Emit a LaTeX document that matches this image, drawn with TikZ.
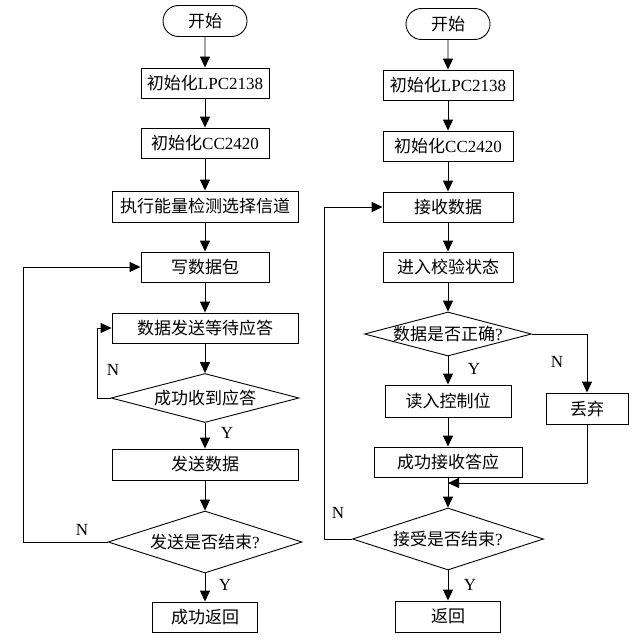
\documentclass[tikz,border=0pt]{standalone}
\usepackage{fontspec}
\setmainfont{Liberation Serif}
\newfontfamily\cjk{Noto Sans CJK SC}
\usetikzlibrary{shapes.geometric,shapes.misc,arrows.meta}

\tikzset{
  base/.style={draw, line width=0.9pt, inner sep=0pt, font=\fontsize{17}{20}\selectfont},
  proc/.style 2 args={base, rectangle, minimum width=#1pt, minimum height=#2pt},
  term/.style={base, rounded rectangle, minimum width=84pt, minimum height=31pt},
  dec/.style 2 args={base, diamond, aspect=3.5, inner sep=-3pt, minimum width=#1pt, minimum height=#2pt},
  flow/.style={line width=0.9pt, -{Triangle[length=11pt,width=10pt]}},
  yn/.style={font=\fontsize{17}{20}\selectfont}
}

\begin{document}
\begin{tikzpicture}[x=1pt,y=-1pt]
    \useasboundingbox (0,0) rectangle (640,642);

    % Left: sending side
    \node[term] (ls) at (205,21) {\cjk 开始};
    \node[proc={128}{30}] (l1) at (205,83) {{\cjk 初始化}LPC2138};
    \node[proc={128}{30}] (l2) at (205,143) {{\cjk 初始化}CC2420};
    \node[proc={186}{31}] (l3) at (205,206.5) {\cjk 执行能量检测选择信道};
    \node[proc={128}{30}] (l4) at (205,267) {\cjk 写数据包};
    \node[proc={186}{30}] (l5) at (205,328) {\cjk 数据发送等待应答};
    \node[dec={188}{49}] (ld1) at (205,398) {\cjk 成功收到应答};
    \node[proc={186}{31}] (l6) at (205,464.5) {\cjk 发送数据};
    \node[dec={194}{62}] (ld2) at (205,542) {{\cjk 发送是否结束}?};
    \node[proc={105}{30}] (le) at (205,617) {\cjk 成功返回};

    % Right: receiving side
    \node[term] (rs) at (448,24) {\cjk 开始};
    \node[proc={130}{30}] (r1) at (448,85) {{\cjk 初始化}LPC2138};
    \node[proc={130}{30}] (r2) at (448,146) {{\cjk 初始化}CC2420};
    \node[proc={130}{30}] (r3) at (448,207) {\cjk 接收数据};
    \node[proc={130}{30}] (r4) at (448,267) {\cjk 进入校验状态};
    \node[dec={167}{44}] (rd1) at (448,334) {{\cjk 数据是否正确}?};
    \node[proc={126}{32}] (r5) at (448,401) {\cjk 读入控制位};
    \node[proc={82}{31}] (r6) at (587,408.5) {\cjk 丢弃};
    \node[proc={148}{30}] (r7) at (448,462) {\cjk 成功接收答应};
    \node[dec={191}{62}] (rd2) at (448,539) {{\cjk 接受是否结束}?};
    \node[proc={105}{31}] (re) at (448,616.5) {\cjk 返回};

    % Loop corners
    \coordinate (lback) at (23,0);
    \coordinate (linner) at (97,0);
    \coordinate (rback) at (324,0);
    \coordinate (rmerge) at (448,483);

    % Left arrows
    \draw[flow] (ls) -- (l1);
    \draw[flow] (l1) -- (l2);
    \draw[flow] (l2) -- (l3);
    \draw[flow] (l3) -- (l4);
    \draw[flow] (l4) -- (l5);
    \draw[flow] (l5) -- (ld1);
    \draw[flow] (ld1) -- (l6);
    \draw[flow] (l6) -- (ld2);
    \draw[flow] (ld2) -- (le);
    \draw[flow] (ld1.west) -- (ld1.west -| linner) |- (l5.west);
    \draw[flow] (ld2.west) -- (ld2.west -| lback) |- (l4.west);

    % Right arrows
    \draw[flow] (rs) -- (r1);
    \draw[flow] (r1) -- (r2);
    \draw[flow] (r2) -- (r3);
    \draw[flow] (r3) -- (r4);
    \draw[flow] (r4) -- (rd1);
    \draw[flow] (rd1) -- (r5);
    \draw[flow] (r5) -- (r7);
    \draw[flow] (r7) -- (rd2);
    \draw[flow] (rd2) -- (re);
    \draw[flow] (rd1.east) -| (r6.north);
    \draw[flow] (r6.south) |- (rmerge);
    \draw[flow] (rd2.west) -- (rd2.west -| rback) |- (r3.west);

    % Y / N labels
    \node[yn] (ln1) at (113,370) {N};
    \node[yn] (ly1) at (227,433) {Y};
    \node[yn] (ln2) at (82,530) {N};
    \node[yn] (ly2) at (225,585) {Y};
    \node[yn] (rn1) at (557,362) {N};
    \node[yn] (ry1) at (474,369) {Y};
    \node[yn] (rn2) at (338,513) {N};
    \node[yn] (ry2) at (470,585) {Y};
\end{tikzpicture}
\end{document}
